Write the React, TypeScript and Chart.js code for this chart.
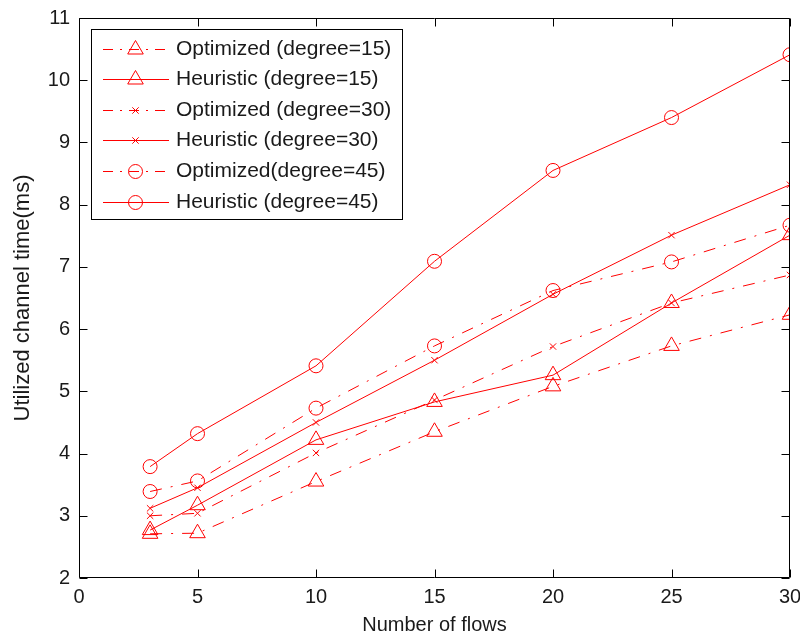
import React, { useEffect, useRef } from "react";
import { Chart, registerables } from "chart.js";
import { drawPoint } from "chart.js/helpers";

Chart.register(...registerables);

const flows = [3, 5, 10, 15, 20, 25, 30];
const optimized15 = [2.71, 2.72, 3.55, 4.35, 5.08, 5.73, 6.23];
const heuristic15 = [2.77, 3.17, 4.22, 4.83, 5.26, 6.42, 7.51];
const optimized30 = [3.0, 3.04, 4.01, 4.86, 5.72, 6.42, 6.87];
const heuristic30 = [3.12, 3.45, 4.5, 5.5, 6.56, 7.51, 8.32];
const optimized45 = [3.39, 3.56, 4.73, 5.73, 6.62, 7.08, 7.67];
const heuristic45 = [3.79, 4.32, 5.41, 7.09, 8.55, 9.4, 10.41];

const seriesLabels = [
  "Optimized (degree=15)",
  "Heuristic (degree=15)",
  "Optimized (degree=30)",
  "Heuristic (degree=30)",
  "Optimized(degree=45)",
  "Heuristic (degree=45)",
];
const seriesValues = [optimized15, heuristic15, optimized30, heuristic30, optimized45, heuristic45];
const seriesMarkers = ["triangle", "triangle", "crossRot", "crossRot", "circle", "circle"];
const seriesOptimized = [true, false, true, false, true, false];

const xTitle = "Number of flows";
const yTitle = "Utilized channel time(ms)";

const RED = "#ff0000";
const TEXT = "#1a1a1a";
const DASHDOT = [12, 9, 2, 9];
const LEGEND_DASHDOT = [10, 7, 2, 7];
const FONT = "'Liberation Sans', Arial, sans-serif";

function markerRadius(style: string) {
  if (style === "triangle") return 9;
  if (style === "circle") return 7;
  return 4.5;
}

const framePlugin = {
  id: "frameTicks",
  afterDatasetsDraw(chart: any) {
    const { ctx, chartArea, scales } = chart;
    const { left, right, top, bottom } = chartArea;
    const L = 8;
    ctx.save();
    ctx.strokeStyle = "#000";
    ctx.lineWidth = 1;
    ctx.setLineDash([]);
    ctx.beginPath();
    const l = Math.round(left) + 0.5, r = Math.round(right) - 0.5;
    const t = Math.round(top) + 0.5, b = Math.round(bottom) - 0.5;
    ctx.rect(l, t, r - l, b - t);
    scales.x.ticks.forEach((tk: any) => {
      const x = Math.round(scales.x.getPixelForValue(tk.value)) + 0.5;
      ctx.moveTo(x, b); ctx.lineTo(x, b - L);
      ctx.moveTo(x, t); ctx.lineTo(x, t + L);
    });
    scales.y.ticks.forEach((tk: any) => {
      const y = Math.round(scales.y.getPixelForValue(tk.value)) + 0.5;
      ctx.moveTo(l, y); ctx.lineTo(l + L, y);
      ctx.moveTo(r, y); ctx.lineTo(r - L, y);
    });
    ctx.stroke();
    ctx.restore();
  },
  afterDraw(chart: any) {
    const { ctx } = chart;
    const bx = 91.5, by = 29.5, bw = 311, bh = 190;
    ctx.save();
    ctx.fillStyle = "#fff";
    ctx.fillRect(bx, by, bw, bh);
    ctx.strokeStyle = "#000";
    ctx.lineWidth = 1;
    ctx.setLineDash([]);
    ctx.strokeRect(bx, by, bw, bh);
    chart.data.datasets.forEach((ds: any, i: number) => {
      const y = Math.round(48.5 + i * 30.6) + 0.5;
      ctx.strokeStyle = ds.borderColor;
      ctx.lineWidth = 1;
      ctx.setLineDash(ds.borderDash && ds.borderDash.length ? LEGEND_DASHDOT : []);
      ctx.beginPath();
      ctx.moveTo(103, y);
      ctx.lineTo(169, y);
      ctx.stroke();
      ctx.setLineDash([]);
      ctx.strokeStyle = ds.pointBorderColor;
      ctx.fillStyle = "rgba(0,0,0,0)";
      ctx.lineWidth = 1;
      drawPoint(ctx, { pointStyle: ds.pointStyle, radius: ds.pointRadius, borderWidth: 1, rotation: 0 }, 135.5, y);
      ctx.fillStyle = TEXT;
      ctx.font = `21px ${FONT}`;
      ctx.textBaseline = "middle";
      ctx.textAlign = "left";
      ctx.fillText(ds.label, 176, y);
    });
    ctx.restore();
  },
};

export default function App() {
  const ref = useRef<HTMLCanvasElement>(null);
  useEffect(() => {
    if (!ref.current) return;
    const datasets = seriesLabels.map((label, i) => ({
      label,
      data: flows.map((f, j) => ({ x: f, y: seriesValues[i][j] })),
      borderColor: RED,
      borderWidth: 1,
      borderDash: seriesOptimized[i] ? DASHDOT : [],
      pointStyle: seriesMarkers[i],
      pointRadius: markerRadius(seriesMarkers[i]),
      pointBorderColor: RED,
      pointBackgroundColor: "rgba(0,0,0,0)",
      pointBorderWidth: 1,
      fill: false,
      tension: 0,
    }));
    const chart = new Chart(ref.current, {
      type: "line",
      data: { datasets },
      options: {
        responsive: false,
        animation: false,
        layout: { padding: { left: 0, top: 18, right: 10, bottom: 0 } },
        plugins: { legend: { display: false }, tooltip: { enabled: false } },
        scales: {
          x: {
            type: "linear",
            min: 0,
            max: 30,
            border: { display: false },
            grid: { display: false, drawTicks: false },
            ticks: { stepSize: 5, color: TEXT, font: { family: FONT, size: 20 }, padding: 7, maxRotation: 0 },
            title: { display: true, text: xTitle, color: TEXT, font: { family: FONT, size: 20 }, padding: { top: 0, bottom: 0 } },
            afterFit: (s: any) => { s.height = 59; s.paddingLeft = 0; s.paddingRight = 0; },
          },
          y: {
            type: "linear",
            min: 2,
            max: 11,
            border: { display: false },
            grid: { display: false, drawTicks: false },
            ticks: { stepSize: 1, color: TEXT, font: { family: FONT, size: 20 }, padding: 9 },
            title: { display: true, text: yTitle, color: TEXT, font: { family: FONT, size: 22 }, padding: { top: 10, bottom: 0 } },
            afterFit: (s: any) => { s.width = 79; s.paddingTop = 0; s.paddingBottom = 0; },
          },
        },
      },
      plugins: [framePlugin],
    } as any);
    return () => chart.destroy();
  }, []);
  return (
    <div style={{ position: "fixed", left: 0, top: 0, width: 800, height: 637, background: "#fff" }}>
      <canvas ref={ref} width={800} height={637} style={{ display: "block" }} />
    </div>
  );
}
